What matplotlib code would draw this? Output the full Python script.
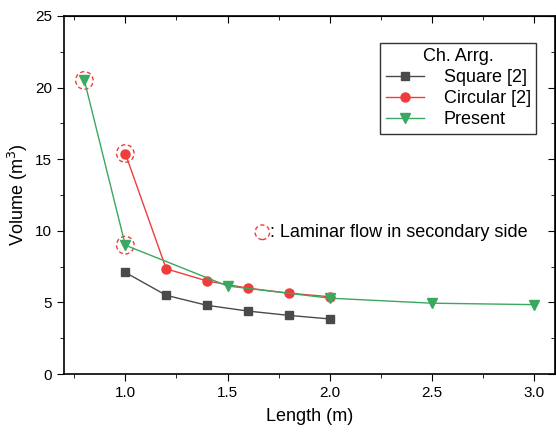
import matplotlib
matplotlib.use('Agg')
import matplotlib.pyplot as plt
from matplotlib.ticker import MultipleLocator

plt.rcParams['font.family'] = ['Liberation Sans', 'DejaVu Sans']

# ---- data ----
square_len = [1.0, 1.2, 1.4, 1.6, 1.8, 2.0]
square_vol = [7.1, 5.5, 4.8, 4.4, 4.1, 3.85]

circ_len = [1.0, 1.2, 1.4, 1.6, 1.8, 2.0]
circ_vol = [15.4, 7.35, 6.5, 6.0, 5.65, 5.4]

present_len = [0.8, 1.0, 1.5, 2.0, 2.5, 3.0]
present_vol = [20.5, 9.0, 6.15, 5.3, 4.95, 4.85]

# points flagged as laminar flow in the secondary side
laminar_len = [0.8, 1.0, 1.0]
laminar_vol = [20.5, 15.4, 9.0]

GRAY = '#4a4a4a'
RED = '#f03c3c'
GREEN = '#3aa860'

fig = plt.figure(figsize=(5.56, 4.32), dpi=100)
ax = fig.add_axes([0.115, 0.134, 0.883, 0.829])

ax.plot(square_len, square_vol, '-s', color=GRAY, lw=1, ms=5.5, label='Square [2]')
ax.plot(circ_len, circ_vol, '-o', color=RED, lw=1, ms=6.5, label='Circular [2]')
ax.plot(present_len, present_vol, '-v', color=GREEN, lw=1, ms=6.5, label='Present')

ax.scatter(laminar_len, laminar_vol, s=160, facecolors='none',
           edgecolors=RED, linewidths=1, linestyles=(0, (3, 2)))

ax.scatter([1.67], [9.9], s=110, facecolors='none', edgecolors=RED,
           linewidths=1, linestyles=(0, (3, 2)))
ax.text(1.705, 9.9, ': Laminar flow in secondary side', fontsize=13,
        va='center', ha='left')

ax.set_xlim(0.7, 3.1)
ax.set_ylim(0, 25)
ax.xaxis.set_major_locator(MultipleLocator(0.5))
ax.xaxis.set_minor_locator(MultipleLocator(0.25))
ax.yaxis.set_major_locator(MultipleLocator(5))
ax.yaxis.set_minor_locator(MultipleLocator(2.5))
ax.tick_params(which='major', length=5, labelsize=11)
ax.tick_params(which='minor', length=3)

top = ax.secondary_xaxis('top')
top.xaxis.set_major_locator(MultipleLocator(0.5))
top.xaxis.set_minor_locator(MultipleLocator(0.25))
top.tick_params(which='both', direction='in', labeltop=False)
top.tick_params(which='major', length=5)
top.tick_params(which='minor', length=3)
right = ax.secondary_yaxis('right')
right.yaxis.set_major_locator(MultipleLocator(5))
right.yaxis.set_minor_locator(MultipleLocator(2.5))
right.tick_params(which='both', direction='in', labelright=False)
right.tick_params(which='major', length=5)
right.tick_params(which='minor', length=3)

for sp in ax.spines.values():
    sp.set_linewidth(1.2)

ax.set_xlabel('Length (m)', fontsize=13, labelpad=6)
ax.set_ylabel('Volume (m$^3$)', fontsize=13, labelpad=4)

leg = ax.legend(title='Ch. Arrg.', loc='upper right', bbox_to_anchor=(0.962, 0.925),
                fontsize=13, title_fontsize=13, frameon=True, fancybox=False,
                edgecolor='black', handlelength=2.1, handletextpad=1.1,
                borderpad=0.3, labelspacing=0.22, borderaxespad=0)
leg.get_frame().set_linewidth(1)

fig.savefig('out.png', dpi=100)
